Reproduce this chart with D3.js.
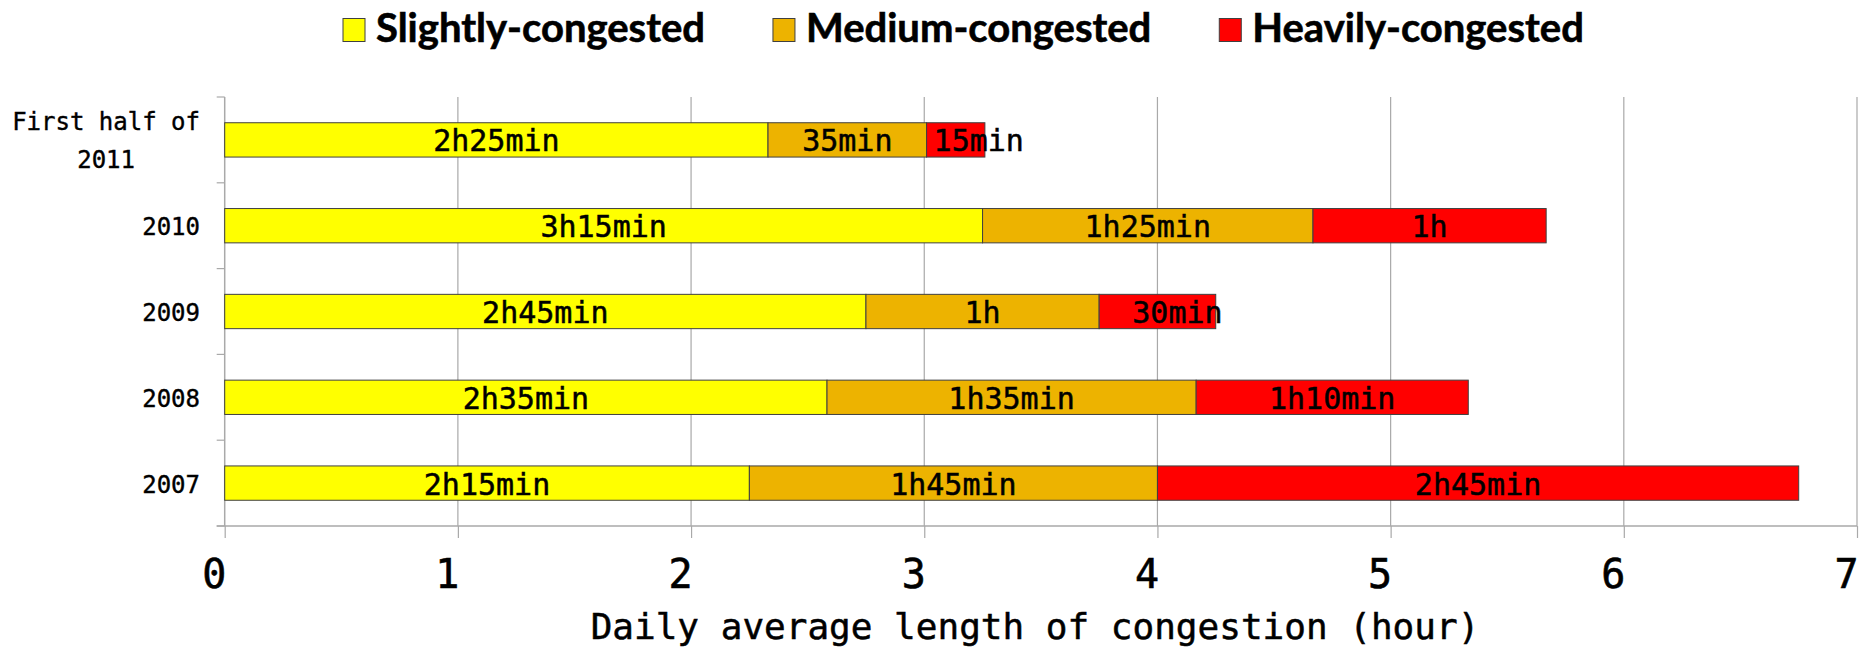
<!DOCTYPE html>
<html>
<head>
<meta charset="utf-8">
<script src="https://cdn.jsdelivr.net/npm/d3@7"></script>
<style>
  html, body { margin: 0; padding: 0; background: #fff; }
  svg { display: block; }
</style>
</head>
<body>
<svg id="chart" width="1872" height="648"></svg>
<script>
// ---------- data ----------
const categories = ["First half of 2011", "2010", "2009", "2008", "2007"];
const seriesNames = ["Slightly-congested", "Medium-congested", "Heavily-congested"];
const slightly = [2.33, 3.25, 2.75, 2.583, 2.25];
const medium   = [0.68, 1.417, 1.0, 1.583, 1.75];
const heavy    = [0.25, 1.0, 0.5, 1.167, 2.75];
const slightlyLabels = ["2h25min", "3h15min", "2h45min", "2h35min", "2h15min"];
const mediumLabels   = ["35min", "1h25min", "1h", "1h35min", "1h45min"];
const heavyLabels    = ["15min", "1h", "30min", "1h10min", "2h45min"];
const xTicks = [0, 1, 2, 3, 4, 5, 6, 7];
const xTitle = "Daily average length of congestion (hour)";

// ---------- styles / layout ----------
const colors = ["#FFFF00", "#EDB300", "#FF0000"];
const mono = "'DejaVu Sans Mono', monospace";
const plot = { left: 224.7, right: 1857, top: 97, bottom: 526 };
const labelNudge = { "First half of 2011|2": 23, "2009|2": 20 };

const svg = d3.select("#chart");

const x = d3.scaleLinear().domain([0, 7]).range([plot.left, plot.right]);
const y = d3.scaleBand().domain(categories).range([plot.top, plot.bottom])
  .paddingInner(0.6).paddingOuter(0.3);
const yBand = d3.scaleBand().domain(categories).range([plot.top, plot.bottom]);

const table = categories.map((c, i) => ({
  cat: c,
  [seriesNames[0]]: slightly[i],
  [seriesNames[1]]: medium[i],
  [seriesNames[2]]: heavy[i]
}));
const labelSets = [slightlyLabels, mediumLabels, heavyLabels];
const stacked = d3.stack().keys(seriesNames)(table);

// gridlines
svg.append("g").selectAll("line").data(xTicks.filter(d => d > 0)).join("line")
  .attr("x1", d => x(d)).attr("x2", d => x(d))
  .attr("y1", plot.top).attr("y2", plot.bottom)
  .attr("stroke", "#A9A9A9").attr("stroke-width", 1.2);

// x axis
const xAxis = svg.append("g").attr("transform", `translate(0,${plot.bottom})`)
  .call(d3.axisBottom(x).tickValues(xTicks).tickSize(12).tickSizeOuter(0).tickFormat(d3.format("d")));
xAxis.select(".domain").attr("stroke", "#A9A9A9").attr("stroke-width", 1.5)
  .attr("d", `M${plot.left - 8},0H${plot.right}`);
xAxis.selectAll(".tick line").attr("stroke", "#A9A9A9").attr("stroke-width", 1.2);
xAxis.selectAll(".tick text")
  .attr("font-family", mono).attr("font-size", 40).attr("fill", "#000")
  .attr("stroke", "#000").attr("stroke-width", 0.6)
  .attr("dx", -11).attr("y", 0).attr("dy", 62);

// y axis
const yAxis = svg.append("g").attr("transform", `translate(${plot.left},0)`);
yAxis.append("line").attr("x1", 0).attr("x2", 0).attr("y1", plot.top).attr("y2", plot.bottom)
  .attr("stroke", "#A9A9A9").attr("stroke-width", 1.5);
const boundaries = categories.map(c => yBand(c)).concat([plot.bottom]);
yAxis.selectAll("line.t").data(boundaries).join("line").attr("class", "t")
  .attr("x1", -8).attr("x2", 0).attr("y1", d => d).attr("y2", d => d)
  .attr("stroke", "#A9A9A9").attr("stroke-width", 1.2);

// category labels (wrapped)
const yLab = svg.append("g").attr("font-family", mono).attr("font-size", 24).attr("fill", "#000")
  .attr("stroke", "#000").attr("stroke-width", 0.4);
categories.forEach(c => {
  const words = c.split(" ");
  const lines = [];
  let cur = "";
  const maxChars = 13;
  words.forEach(w => {
    const t = cur ? cur + " " + w : w;
    if (t.length > maxChars && cur) { lines.push(cur); cur = w; } else cur = t;
  });
  lines.push(cur);
  const cy = yBand(c) + yBand.bandwidth() / 2;
  const charW = 24 * 0.602;
  const maxW = d3.max(lines, l => l.length) * charW;
  const cx = 200 - maxW / 2;
  lines.forEach((l, i) => {
    yLab.append("text")
      .attr("x", lines.length > 1 ? cx : 200)
      .attr("text-anchor", lines.length > 1 ? "middle" : "end")
      .attr("y", cy + 9.5 + (i - (lines.length - 1) / 2) * 38)
      .text(l);
  });
});

// bars
const barG = svg.append("g");
stacked.forEach((s, si) => {
  barG.append("g").selectAll("rect").data(s).join("rect")
    .attr("x", d => x(d[0]))
    .attr("width", d => x(d[1]) - x(d[0]))
    .attr("y", d => y(d.data.cat))
    .attr("height", y.bandwidth())
    .attr("fill", colors[si])
    .attr("stroke", "#404040").attr("stroke-width", 1);
});

// bar labels
const labG = svg.append("g").attr("font-family", mono).attr("font-size", 30).attr("fill", "#000")
  .attr("stroke", "#000").attr("stroke-width", 0.5)
  .attr("text-anchor", "middle");
stacked.forEach((s, si) => {
  s.forEach((d, i) => {
    const key = d.data.cat + "|" + si;
    labG.append("text")
      .attr("x", (x(d[0]) + x(d[1])) / 2 + (labelNudge[key] || 0))
      .attr("y", y(d.data.cat) + y.bandwidth() / 2 + 11.5)
      .text(labelSets[si][i]);
  });
});

// x title
svg.append("text")
  .attr("x", 1035).attr("y", 638.5)
  .attr("text-anchor", "middle")
  .attr("font-family", mono).attr("font-size", 36).attr("fill", "#000")
  .attr("stroke", "#000").attr("stroke-width", 0.5)
  .text(xTitle);

// legend
const leg = svg.append("g");
let lx = 343;
seriesNames.forEach((n, i) => {
  leg.append("rect").attr("x", lx).attr("y", 18.5).attr("width", 22).attr("height", 23)
    .attr("fill", colors[i]).attr("stroke", "#404040").attr("stroke-width", 1);
  const t = leg.append("text").attr("x", lx + 33).attr("y", 42)
    .attr("font-family", "Lato, 'Open Sans', sans-serif").attr("font-weight", 700)
    .attr("font-size", 40).attr("fill", "#000")
    .attr("stroke", "#000").attr("stroke-width", 0.6)
    .text(n);
  const w = t.node().getComputedTextLength();
  lx = lx + 33 + w + 68;
});
</script>
</body>
</html>
